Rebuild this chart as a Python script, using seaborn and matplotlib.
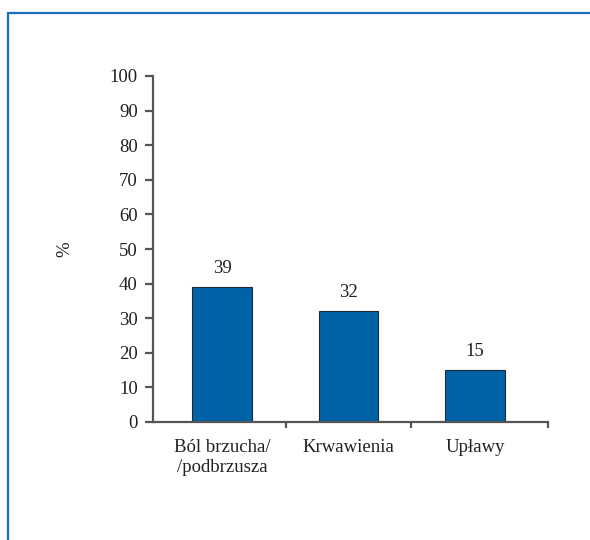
import matplotlib
matplotlib.use("Agg")
import matplotlib.pyplot as plt
import seaborn as sns
import pandas as pd
from matplotlib.lines import Line2D

categories = ["Ból brzucha/\n/podbrzusza", "Krwawienia", "Upławy"]
values = [39, 32, 15]
y_ticks = [0, 10, 20, 30, 40, 50, 60, 70, 80, 90, 100]

sns.set_theme(style="white")
plt.rcParams["font.family"] = ["Liberation Serif", "DejaVu Serif"]

FS = 13.5
TXT = "#231f20"
AXC = "#555555"

df = pd.DataFrame({"kategoria": categories, "procent": values})

fig = plt.figure(figsize=(5.9, 5.4), dpi=100)
ax = fig.add_axes([153 / 590, 1 - 422 / 540, 395 / 590, 346 / 540])

sns.barplot(data=df, x="kategoria", y="procent", color="#0063A8",
            edgecolor="#1f2a36", linewidth=0.8, width=0.47, ax=ax,
            saturation=1)

for i, v in enumerate(values):
    ax.text(i, v + 3.0, f"{v}", ha="center", va="bottom", fontsize=FS,
            color=TXT)

ax.set_xlim(-0.545, 2.575)
ax.set_ylim(0, 100)
ax.set_yticks(y_ticks)
ax.set_yticklabels([str(t) for t in y_ticks], fontsize=FS, color=TXT)
ax.set_xticks([0, 1, 2])
ax.set_xticklabels(categories, fontsize=FS, color=TXT, linespacing=1.25)
ax.tick_params(axis="x", length=0, pad=12)
ax.tick_params(axis="y", length=6, width=1.6, color=AXC, pad=5, left=True)

# category separators along the x axis
for xb in [0.505, 1.49, 2.575]:
    ax.plot([xb, xb], [0, -1.8], color=AXC, lw=1.6, clip_on=False,
            solid_capstyle="butt")

ax.set_xlabel("")
ax.set_ylabel("")
fig.text(65 / 590, 1 - 249 / 540, "%", rotation=90, ha="center", va="center",
         fontsize=FS, color=TXT)

for side in ["top", "right"]:
    ax.spines[side].set_visible(False)
for side in ["left", "bottom"]:
    ax.spines[side].set_color(AXC)
    ax.spines[side].set_linewidth(1.6)

# page frame
frame_color = "#1a6dbf"
fig.add_artist(Line2D([8 / 590, 8 / 590], [0, 1 - 13 / 540],
                      color=frame_color, lw=1.6, transform=fig.transFigure))
fig.add_artist(Line2D([8 / 590, 1], [1 - 13 / 540, 1 - 13 / 540],
                      color=frame_color, lw=1.6, transform=fig.transFigure))

fig.savefig("out.png", dpi=100)
